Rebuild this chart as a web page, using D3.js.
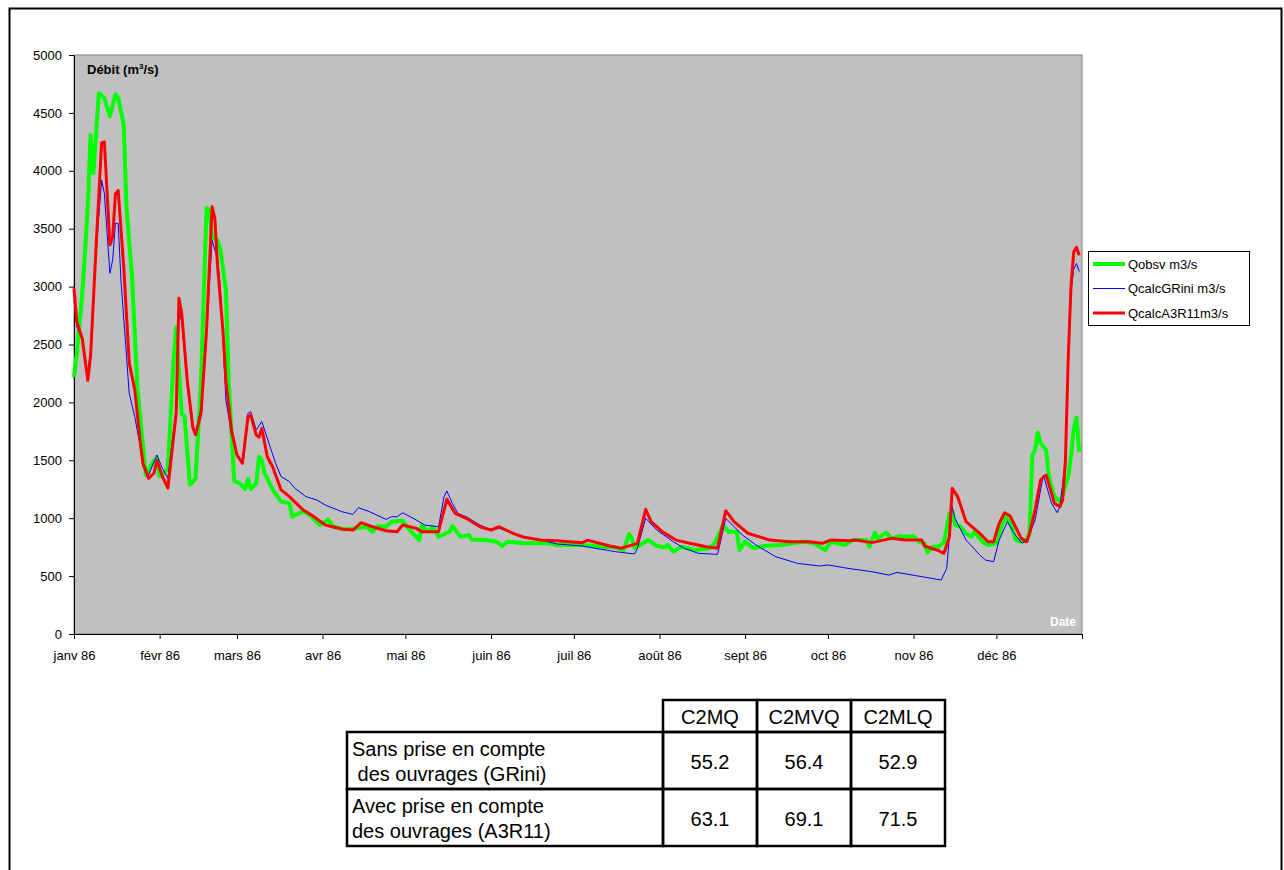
<!DOCTYPE HTML>
<html>

<head>
  <meta charset="utf-8">
  <title>Débit 1986</title>
  <script src="https://cdnjs.cloudflare.com/ajax/libs/d3/7.8.5/d3.min.js"></script>
  <style>
    body { margin: 0; background: #fff; }
    svg text { font-family: "Liberation Sans", Arial, sans-serif; }
  </style>
</head>

<body>
  <script>
    // [jour de l'année, débit m3/s]
    const qobs = [
      [0, 2220], [1, 2420], [3, 2940], [5, 3690], [6, 4310], [7, 3980], [9, 4670], [11, 4630], [13, 4470],
      [15, 4660], [16, 4630], [18, 4400], [19, 3690], [21, 3090], [23, 2110], [25, 1620], [26, 1370],
      [28, 1460], [30, 1530], [31, 1360], [33, 1400], [34, 1430], [36, 2340], [37, 2650], [39, 1900],
      [40, 1880], [42, 1290], [44, 1340], [46, 2190], [48, 3680], [49, 3660], [50, 3430], [52, 3400],
      [53, 3320], [55, 2970], [56, 2190], [58, 1320], [60, 1300], [62, 1250], [63, 1340], [64, 1250],
      [66, 1300], [67, 1530], [68, 1500], [69, 1390], [72, 1244], [75, 1143], [78, 1128], [79, 1013],
      [83, 1060], [86, 1013], [89, 941], [92, 990], [94, 926], [98, 903], [102, 912], [106, 926],
      [108, 883], [110, 932], [113, 926], [115, 970], [119, 979], [121, 912], [125, 811], [126, 941],
      [128, 883], [130, 926], [132, 840], [136, 883], [137, 932], [140, 840], [143, 854], [144, 817],
      [149, 811], [153, 797], [155, 760], [157, 797], [163, 783], [172, 783], [175, 768], [184, 768],
      [196, 748], [199, 725], [201, 863], [202, 825], [203, 740], [206, 783], [208, 811], [211, 760],
      [214, 748], [215, 768], [217, 711], [220, 754], [225, 725], [230, 740], [232, 783], [235, 941],
      [237, 884], [240, 884], [241, 725], [243, 797], [246, 740], [250, 760], [256, 768], [264, 797],
      [268, 783], [272, 725], [274, 797], [279, 768], [282, 811], [287, 811], [288, 754], [290, 875],
      [291, 826], [294, 875], [296, 826], [299, 846], [302, 840], [304, 846], [306, 797], [308, 783],
      [309, 702], [311, 754], [313, 754], [315, 789], [317, 1042], [318, 1056], [319, 941], [321, 927],
      [323, 869], [325, 840], [326, 884], [329, 797], [331, 768], [334, 783], [335, 869], [337, 1013],
      [339, 970], [341, 811], [343, 797], [345, 811], [346, 869], [347, 1546], [348, 1589], [349, 1739],
      [350, 1647], [352, 1589], [353, 1359], [355, 1186], [357, 1143], [358, 1200], [360, 1359],
      [361, 1532], [362, 1762], [363, 1870], [364, 1570]
    ];

    const qcalcGRini = [
      [0, 2884], [1, 2654], [2, 2596], [3, 2550], [5, 2250], [6, 2450], [8, 3300], [10, 3920], [11, 3805],
      [13, 3115], [14, 3230], [15, 3546], [16, 3546], [17, 3057], [20, 2078], [22, 1877], [24, 1618],
      [25, 1445], [27, 1373], [30, 1546], [32, 1431], [34, 1344], [37, 1950], [38, 2798], [39, 2700],
      [41, 2150], [43, 1762], [44, 1730], [46, 1950], [48, 2600], [50, 3402], [52, 3230], [53, 3000],
      [55, 2021], [57, 1733], [59, 1531], [61, 1503], [63, 1906], [64, 1920], [66, 1762], [68, 1834],
      [71, 1618], [73, 1474], [75, 1359], [78, 1316], [80, 1258], [84, 1186], [88, 1157], [91, 1114],
      [97, 1056], [101, 1033], [103, 1091], [107, 1056], [113, 990], [115, 1013], [117, 1013],
      [119, 1047], [124, 984], [127, 941], [132, 926], [134, 1186], [135, 1235], [137, 1128], [139, 1042],
      [142, 1013], [147, 941], [151, 898], [154, 912], [159, 869], [163, 840], [169, 811], [175, 777],
      [184, 760], [196, 711], [203, 691], [204, 740], [207, 999], [211, 898], [217, 797], [221, 740],
      [226, 697], [233, 688], [234, 783], [236, 999], [239, 927], [242, 855], [247, 768], [254, 668],
      [262, 610], [270, 587], [273, 596], [281, 564], [289, 538], [295, 509], [298, 532], [307, 495],
      [314, 466], [316, 566], [317, 840], [318, 1099], [319, 999], [323, 811], [328, 682], [330, 639],
      [333, 624], [335, 811], [338, 970], [340, 884], [343, 789], [345, 797], [348, 984], [351, 1373],
      [354, 1128], [356, 1047], [357, 1099], [359, 1502], [360, 2300], [361, 2950], [362, 3150],
      [363, 3200], [364, 3130]
    ];

    const qcalcA3R11 = [
      [0, 2985], [1, 2700], [3, 2550], [5, 2190], [6, 2400], [8, 3345], [10, 4240], [11, 4250], [13, 3360],
      [14, 3430], [15, 3800], [16, 3830], [18, 3170], [20, 2340], [22, 2110], [24, 1650], [25, 1470],
      [27, 1344], [29, 1390], [30, 1500], [32, 1360], [34, 1260], [37, 1906], [38, 2900], [39, 2770],
      [41, 2190], [43, 1790], [44, 1720], [46, 1906], [48, 2625], [50, 3690], [51, 3590], [52, 3170],
      [54, 2600], [55, 2190], [57, 1760], [59, 1546], [61, 1474], [63, 1877], [64, 1890], [66, 1718],
      [67, 1700], [68, 1776], [70, 1531], [72, 1440], [75, 1244], [78, 1186], [83, 1071], [86, 1027],
      [91, 941], [97, 907], [101, 898], [104, 961], [108, 926], [113, 892], [117, 883], [119, 941],
      [124, 912], [126, 883], [132, 883], [135, 1163], [138, 1042], [142, 999], [147, 926], [151, 898],
      [154, 926], [159, 869], [163, 835], [169, 811], [175, 806], [184, 788], [186, 811], [194, 760],
      [198, 740], [202, 768], [204, 783], [207, 1076], [209, 970], [213, 884], [218, 811], [223, 783],
      [229, 754], [233, 740], [236, 1065], [239, 970], [244, 870], [252, 811], [259, 797], [266, 797],
      [271, 783], [274, 811], [281, 805], [283, 811], [289, 789], [296, 826], [301, 811], [307, 811],
      [308, 760], [313, 720], [315, 697], [317, 840], [318, 1258], [320, 1186], [323, 970], [328, 869],
      [331, 797], [333, 797], [335, 956], [337, 1047], [339, 1018], [343, 826], [345, 797], [346, 869],
      [348, 1071], [350, 1330], [352, 1373], [354, 1215], [355, 1128], [357, 1099], [358, 1157],
      [359, 1502], [360, 2370], [361, 3000], [362, 3300], [363, 3340], [364, 3270]
    ];

    const seriesNames = ['Qobsv m3/s', 'QcalcGRini m3/s', 'QcalcA3R11m3/s'];
    const seriesColors = ['#00ff00', '#0000ff', '#ff0000'];
    const seriesWidths = [4, 1, 3];

    const monthLabels = ['janv 86', 'févr 86', 'mars 86', 'avr 86', 'mai 86', 'juin 86',
      'juil 86', 'août 86', 'sept 86', 'oct 86', 'nov 86', 'déc 86', ''];
    const yTicks = [0, 500, 1000, 1500, 2000, 2500, 3000, 3500, 4000, 4500, 5000];

    const tableCols = ['C2MQ', 'C2MVQ', 'C2MLQ'];
    const tableRows = [['Sans prise en compte', ' des ouvrages (GRini)'], ['Avec prise en compte', 'des ouvrages (A3R11)']];
    const tableValues = [[55.2, 56.4, 52.9], [63.1, 69.1, 71.5]];

    const W = 1284, H = 870;
    const plot = { left: 74, top: 55, right: 1082, bottom: 634 };

    const svg = d3.select('body').append('svg')
      .attr('width', W)
      .attr('height', H);

    // cadre extérieur
    svg.append('rect')
      .attr('x', 9.5).attr('y', 8.5)
      .attr('width', 1272).attr('height', 880)
      .attr('fill', '#fff')
      .attr('stroke', '#000')
      .attr('stroke-width', 2);

    const day2date = d => new Date(1986, 0, 1 + d);

    const x = d3.scaleTime()
      .domain([new Date(1986, 0, 1), new Date(1987, 0, 1)])
      .range([plot.left, plot.right]);

    const y = d3.scaleLinear()
      .domain([0, 5000])
      .range([plot.bottom, plot.top]);

    // zone de tracé
    svg.append('rect')
      .attr('x', plot.left).attr('y', plot.top)
      .attr('width', plot.right - plot.left).attr('height', plot.bottom - plot.top)
      .attr('fill', '#c0c0c0')
      .attr('stroke', '#808080')
      .attr('stroke-width', 1);

    const months = d3.timeMonth.range(new Date(1986, 0, 1), new Date(1987, 0, 2));

    const xAxis = svg.append('g')
      .attr('transform', `translate(0,${plot.bottom})`)
      .call(d3.axisBottom(x)
        .tickValues(months)
        .tickSize(5)
        .tickSizeOuter(0)
        .tickPadding(12)
        .tickFormat((d, i) => monthLabels[i]));

    const yAxis = svg.append('g')
      .attr('transform', `translate(${plot.left},0)`)
      .call(d3.axisLeft(y)
        .tickValues(yTicks)
        .tickSize(5)
        .tickSizeOuter(0)
        .tickPadding(7)
        .tickFormat(d3.format('d')));

    [xAxis, yAxis].forEach(g => {
      g.selectAll('path').attr('stroke', '#000').attr('stroke-width', 1);
      g.selectAll('line').attr('stroke', '#000');
      g.selectAll('text').attr('font-size', 13).attr('fill', '#000')
        .attr('font-family', '"Liberation Sans", Arial, sans-serif');
    });

    // titres d'axes
    const yTitle = svg.append('text')
      .attr('x', 87).attr('y', 74)
      .attr('font-size', 13)
      .attr('font-weight', 'bold');
    yTitle.append('tspan').text('Débit (m');
    yTitle.append('tspan').attr('font-size', 8).attr('dy', -5).text('3');
    yTitle.append('tspan').attr('dy', 5).text('/s)');

    svg.append('text')
      .attr('x', 1076).attr('y', 626)
      .attr('text-anchor', 'end')
      .attr('font-size', 12)
      .attr('font-weight', 'bold')
      .attr('fill', '#fff')
      .text('Date');

    // courbes
    const line = d3.line()
      .x(d => x(day2date(d[0])))
      .y(d => y(d[1]));

    const series = [qobs, qcalcGRini, qcalcA3R11];

    svg.append('g')
      .selectAll('path')
      .data(series)
      .enter()
      .append('path')
      .attr('d', line)
      .attr('fill', 'none')
      .attr('stroke', (d, i) => seriesColors[i])
      .attr('stroke-width', (d, i) => seriesWidths[i])
      .attr('stroke-linejoin', 'round');

    // légende
    const leg = svg.append('g').attr('transform', 'translate(1088,251)');
    leg.append('rect')
      .attr('x', 0.5).attr('y', 0.5)
      .attr('width', 161).attr('height', 74)
      .attr('fill', '#fff')
      .attr('stroke', '#000');

    const legItem = leg.selectAll('g.item')
      .data(seriesNames)
      .enter()
      .append('g')
      .attr('class', 'item')
      .attr('transform', (d, i) => `translate(0,${13 + i * 24.5})`);

    legItem.append('line')
      .attr('x1', 5).attr('x2', 37)
      .attr('stroke', (d, i) => seriesColors[i])
      .attr('stroke-width', (d, i) => seriesWidths[i]);

    legItem.append('text')
      .attr('x', 40).attr('y', 4.5)
      .attr('font-size', 13)
      .text(d => d);

    // tableau des critères
    const tab = { left: 347, labelRight: 663, colW: 94, top: 700, headH: 32, rowH: 57 };

    const tg = svg.append('g')
      .attr('fill', 'none')
      .attr('stroke', '#000')
      .attr('stroke-width', 2.5);

    tg.selectAll('rect.head')
      .data(tableCols)
      .enter()
      .append('rect')
      .attr('x', (d, i) => tab.labelRight + i * tab.colW)
      .attr('y', tab.top)
      .attr('width', tab.colW)
      .attr('height', tab.headH);

    tableRows.forEach((r, ri) => {
      const ry = tab.top + tab.headH + ri * tab.rowH;
      tg.append('rect')
        .attr('x', tab.left).attr('y', ry)
        .attr('width', tab.labelRight - tab.left).attr('height', tab.rowH);
      tableCols.forEach((c, ci) => {
        tg.append('rect')
          .attr('x', tab.labelRight + ci * tab.colW).attr('y', ry)
          .attr('width', tab.colW).attr('height', tab.rowH);
      });
    });

    svg.selectAll('text.colhead')
      .data(tableCols)
      .enter()
      .append('text')
      .attr('class', 'colhead')
      .attr('x', (d, i) => tab.labelRight + i * tab.colW + tab.colW / 2)
      .attr('y', tab.top + 24)
      .attr('text-anchor', 'middle')
      .attr('font-size', 20)
      .text(d => d);

    tableRows.forEach((r, ri) => {
      const ry = tab.top + tab.headH + ri * tab.rowH;
      r.forEach((txt, li) => {
        svg.append('text')
          .attr('x', tab.left + 5)
          .attr('y', ry + 24 + li * 25)
          .attr('font-size', 20)
          .attr('xml:space', 'preserve')
          .text(txt);
      });
      tableValues[ri].forEach((v, ci) => {
        svg.append('text')
          .attr('x', tab.labelRight + ci * tab.colW + tab.colW / 2)
          .attr('y', ry + 37)
          .attr('text-anchor', 'middle')
          .attr('font-size', 20)
          .text(d3.format('.1f')(v));
      });
    });
  </script>
</body>

</html>
